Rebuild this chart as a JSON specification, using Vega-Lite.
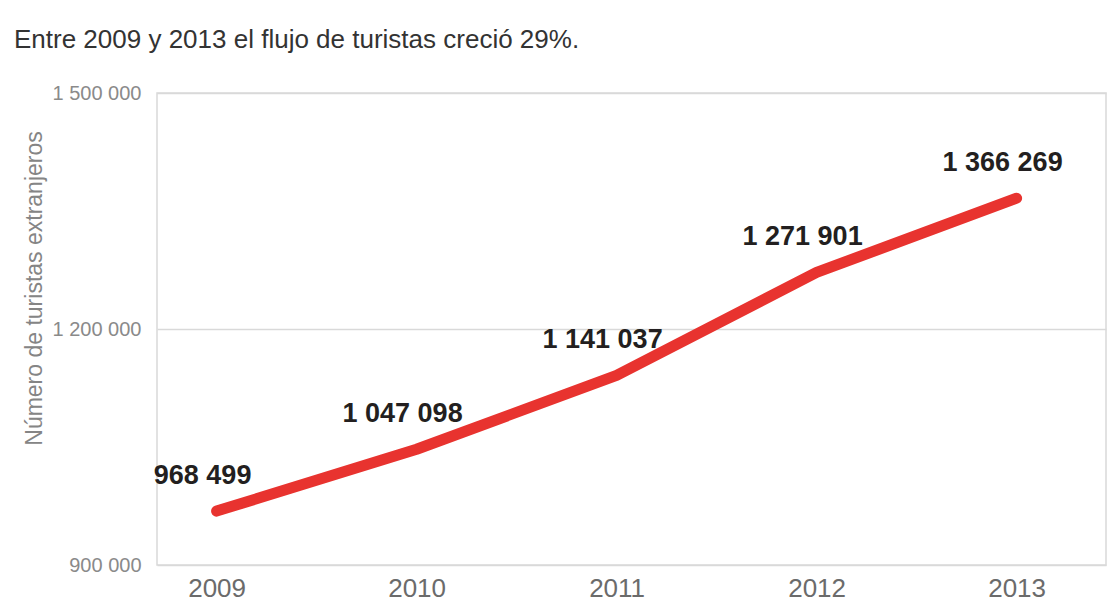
{
  "$schema": "https://vega.github.io/schema/vega-lite/v6.json",
  "width": 949,
  "height": 472,
  "autosize": {"type": "none"},
  "padding": {"left": 157, "top": 93, "right": 4, "bottom": 38},
  "background": "white",
  "config": {
    "font": "Liberation Sans",
    "locale": {"number": {"decimal": ",", "thousands": " ", "grouping": [3], "currency": ["", " €"]}},
    "view": {"stroke": "#d9d9d9", "strokeWidth": 1.5}
  },
  "title": {
    "text": "Entre 2009 y 2013 el flujo de turistas creció 29%.",
    "anchor": "start",
    "frame": "group",
    "fontSize": 26,
    "fontWeight": "normal",
    "color": "#333333",
    "dx": -143,
    "offset": 30
  },
  "data": {
    "values": [
      {"year": "2009", "turistas": 968499},
      {"year": "2010", "turistas": 1047098},
      {"year": "2011", "turistas": 1141037},
      {"year": "2012", "turistas": 1271901},
      {"year": "2013", "turistas": 1366269}
    ]
  },
  "encoding": {
    "x": {
      "field": "year",
      "type": "ordinal",
      "scale": {"type": "point", "padding": 0.3725, "align": 0.4},
      "axis": {
        "title": null,
        "labelAngle": 0,
        "labelFontSize": 26,
        "labelColor": "#6b6b6b",
        "labelPadding": 10,
        "domain": false,
        "ticks": false,
        "grid": false
      }
    },
    "y": {
      "field": "turistas",
      "type": "quantitative",
      "scale": {"domain": [900000, 1500000], "nice": false, "zero": false},
      "axis": {
        "title": "Número de turistas extranjeros",
        "titleFontSize": 23,
        "titleFontWeight": "normal",
        "titleColor": "#858585",
        "titlePadding": 6,
        "titleY": 195,
        "values": [900000, 1200000, 1500000],
        "format": ",d",
        "labelFontSize": 20,
        "labelColor": "#8a8a8a",
        "labelPadding": 16,
        "domain": false,
        "ticks": false,
        "grid": true,
        "gridColor": "#d9d9d9",
        "gridWidth": 1.5
      }
    }
  },
  "layer": [
    {
      "mark": {"type": "line", "color": "#e8332f", "strokeWidth": 11, "strokeCap": "round", "strokeJoin": "round"}
    },
    {
      "mark": {"type": "text", "fontSize": 27, "fontWeight": "bold", "color": "#231f20", "dy": -35, "dx": -14, "baseline": "middle"},
      "encoding": {"text": {"field": "turistas", "type": "quantitative", "format": ",d"}}
    }
  ]
}
